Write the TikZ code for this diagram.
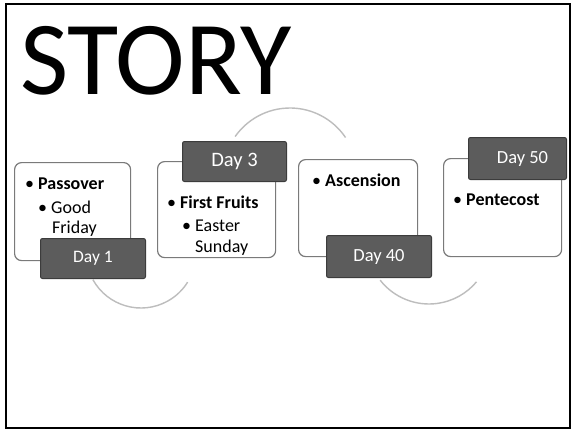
\documentclass[tikz,border=0pt]{standalone}
\usepackage{fontspec}
\setmainfont{Carlito}
\definecolor{cardline}{HTML}{7A7A7A}
\definecolor{dayfill}{HTML}{5C5C5C}
\definecolor{dayline}{HTML}{3C3C3C}
\definecolor{arcline}{HTML}{BDBDBD}
\begin{document}
\begin{tikzpicture}[x=1pt,y=-1pt,
  card/.style={draw=cardline,line width=1.2pt,fill=white,rounded corners=7pt,anchor=north west,inner sep=0pt},
  daybox/.style={draw=dayline,line width=1pt,fill=dayfill,rounded corners=2pt,anchor=north west,inner sep=0pt},
  daytext/.style={text=white,font=\fontsize{17.5}{17.5}\selectfont},
  lvl/.style={anchor=base west,inner sep=0pt,font=\fontsize{18}{20}\selectfont},
  arcstyle/.style={draw=arcline,line width=1.4pt}]
\useasboundingbox (0,0) rectangle (571,431);
\fill[white] (0,0) rectangle (571,431);
\node[draw=black,line width=2pt,anchor=north west,inner sep=0pt,minimum width=564pt,minimum height=424pt] (frame) at (5,3) {};
\node[anchor=base west,inner sep=0pt,font=\fontsize{105}{105}\selectfont] (title) at (20,94) {STORY};
% arcs
\draw[arcstyle] ([shift={(145:67pt)}]290,175) arc[start angle=145,end angle=34,radius=67pt];
\draw[arcstyle] ([shift={(209:55pt)}]141,253) arc[start angle=209,end angle=328,radius=55pt];
\draw[arcstyle] ([shift={(218:62pt)}]429,242) arc[start angle=218,end angle=320,radius=62pt];
% cards
\node[card,minimum width=116pt,minimum height=98pt] (c1) at (14,162) {};
\node[card,minimum width=118pt,minimum height=96pt] (c2) at (157,161) {};
\node[card,minimum width=119pt,minimum height=97pt] (c3) at (298,159) {};
\node[card,minimum width=118pt,minimum height=98pt] (c4) at (443,158) {};
% day boxes
\node[daybox,minimum width=105pt,minimum height=40pt] (d1) at (40,238) {};
\node[daybox,minimum width=104pt,minimum height=40pt] (d3) at (182,141) {};
\node[daybox,minimum width=105pt,minimum height=42pt] (d40) at (326,235) {};
\node[daybox,minimum width=98pt,minimum height=42pt] (d50) at (468,137) {};
\node[daytext] (t1) at (d1.center) {Day 1};
\node[daytext,font=\fontsize{20.5}{20.5}\selectfont] (t3) at (d3.center) {Day 3};
\node[daytext,font=\fontsize{18.5}{18.5}\selectfont] (t40) at (d40.center) {Day 40};
\node[daytext,font=\fontsize{18.5}{18.5}\selectfont] (t50) at ([xshift=5pt]d50.center) {Day 50};
% texts
\node[lvl] (p1) at (25,189) {• \textbf{Passover}};
\node[lvl] (p2) at (38,213) {• Good};
\node[lvl] (p3) at (52,233) {Friday};
\node[lvl] (f1) at (167,208) {• \textbf{First Fruits}};
\node[lvl] (f2) at (182,231) {• Easter};
\node[lvl] (f3) at (195,252) {Sunday};
\node[lvl] (a1) at (312,186) {• \textbf{Ascension}};
\node[lvl] (n1) at (453,205) {• \textbf{Pentecost}};
\end{tikzpicture}
\end{document}
